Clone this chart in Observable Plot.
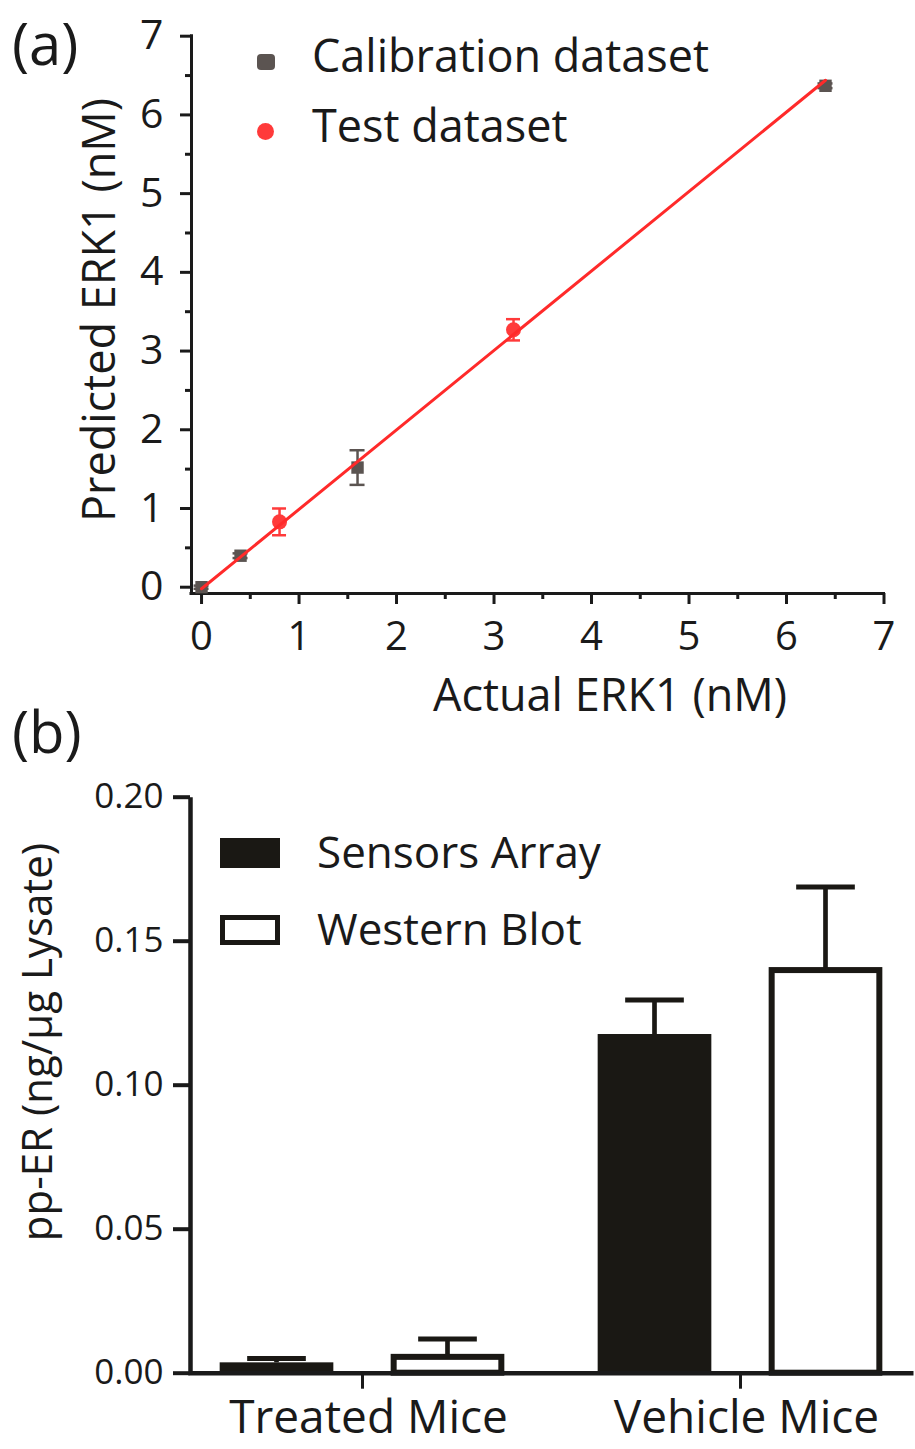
<!DOCTYPE html>
<html><head><meta charset="utf-8">
<script src="https://cdn.jsdelivr.net/npm/d3@7"></script>
<script src="https://cdn.jsdelivr.net/npm/@observablehq/plot@0.6"></script>
<style>
html,body{margin:0;padding:0;background:#fff;}
#wrap{position:relative;width:915px;height:1449px;font-family:"Open Sans",sans-serif;color:#1a1a1a;overflow:hidden;}
#a,#b{position:absolute;left:0;}
#a{top:0;} #b{top:720px;}
#overlay{position:absolute;left:0;top:0;pointer-events:none;}
#overlay text{font-family:"Open Sans",sans-serif;fill:#1a1a1a;}
</style></head>
<body>
<div id="wrap">
  <div id="a"></div>
  <div id="b"></div>
  <svg id="overlay" width="915" height="1449">
    <text x="12" y="65" font-size="58">(a)</text>
    <text x="12" y="753" font-size="58">(b)</text>
    <rect x="257" y="54" width="18" height="16" rx="4" fill="#5b5451"></rect>
    <circle cx="265.5" cy="131.5" r="8.5" fill="#ff3a3a"></circle>
    <text x="312" y="72" font-size="45">Calibration dataset</text>
    <text x="312" y="142" font-size="45">Test dataset</text>
    <text x="610" y="711" font-size="45" text-anchor="middle">Actual ERK1 (nM)</text>
    <text transform="translate(115,310) rotate(-90)" font-size="45" text-anchor="middle">Predicted ERK1 (nM)</text>
    <rect x="220" y="838" width="60" height="30" fill="#1a1814"></rect>
    <rect x="222.5" y="917.5" width="55" height="25" fill="#fff" stroke="#1a1814" stroke-width="5"></rect>
    <text x="317" y="868" font-size="44">Sensors Array</text>
    <text x="317" y="945" font-size="44">Western Blot</text>
    <text transform="translate(52,1042) rotate(-90)" font-size="42" text-anchor="middle">pp-ER (ng/µg Lysate)</text>
  </svg>
</div>
<script>
// ---------- Data: panel (a) ----------
const calibX = [0, 0.4, 1.6, 6.4];
const calibY = [0, 0.40, 1.52, 6.37];
const calibErr = [0.02, 0.03, 0.22, 0.03];
const testX = [0.8, 3.2];
const testY = [0.83, 3.27];
const testErr = [0.17, 0.135];
const fitX = [0, 6.4];
const fitY = [-0.02, 6.44];
const majorTicksA = [0, 1, 2, 3, 4, 5, 6, 7];
const minorTicksA = [0.5, 1.5, 2.5, 3.5, 4.5, 5.5, 6.5];

// ---------- Data: panel (b) ----------
const groups = ["Treated Mice", "Vehicle Mice"];
const seriesNames = ["Sensors Array", "Western Blot"];
const sensorsVal = [0.0036, 0.1176];
const sensorsErr = [0.0015, 0.012];
const westernVal = [0.0055, 0.1398];
const westernErr = [0.0064, 0.029];
const yTicksB = [0, 0.05, 0.10, 0.15, 0.20];

const INK = "#1a1a1a", BAR = "#1a1814", GRAY = "#5b5451", RED = "#ff3a3a", LINE = "#ff2a2a";
const font = '"Open Sans", sans-serif';

// ---------- Panel (a) ----------
const calib = calibX.map((x, i) => ({x, y: calibY[i], lo: calibY[i] - calibErr[i], hi: calibY[i] + calibErr[i]}));
const test = testX.map((x, i) => ({x, y: testY[i], lo: testY[i] - testErr[i], hi: testY[i] + testErr[i]}));
const fit = fitX.map((x, i) => ({x, y: fitY[i]}));
const xDomA = [-0.103, 7], yDomA = [-0.08, 7];

function errA(data, color, cap) {
  return [
    Plot.ruleX(data, {x: "x", y1: "lo", y2: "hi", stroke: color, strokeWidth: 2.5}),
    Plot.ruleY(data, {x1: "x", x2: "x", y: "hi", stroke: color, strokeWidth: 2.5, insetLeft: -cap, insetRight: -cap}),
    Plot.ruleY(data, {x1: "x", x2: "x", y: "lo", stroke: color, strokeWidth: 2.5, insetLeft: -cap, insetRight: -cap})
  ];
}

const plotA = Plot.plot({
  width: 915, height: 720,
  marginLeft: 191, marginRight: 31.5, marginTop: 35.7, marginBottom: 127,
  style: {fontFamily: font, color: INK, background: "transparent", overflow: "visible"},
  x: {domain: xDomA, label: null},
  y: {domain: yDomA, label: null},
  marks: [
    Plot.axisX({ticks: majorTicksA, tickSize: 11, tickPadding: 17, fontSize: 40, strokeWidth: 3, tickFormat: d3.format("d"), label: null}),
    Plot.axisX({ticks: minorTicksA, tickSize: 6, strokeWidth: 3, tickFormat: () => "", label: null}),
    Plot.axisY({ticks: majorTicksA, tickSize: 11, tickPadding: 17, fontSize: 41, strokeWidth: 3, tickFormat: d3.format("d"), label: null}),
    Plot.axisY({ticks: minorTicksA, tickSize: 6, strokeWidth: 3, tickFormat: () => "", label: null}),
    Plot.ruleY([yDomA[0]], {stroke: INK, strokeWidth: 3, strokeLinecap: "square"}),
    Plot.ruleX([xDomA[0]], {stroke: INK, strokeWidth: 3, strokeLinecap: "square"}),
    ...errA(calib, GRAY, 7.5),
    ...errA(test, RED, 7),
    Plot.dot(calib, {x: "x", y: "y", symbol: "square", r: 7, fill: GRAY}),
    Plot.dot(test, {x: "x", y: "y", r: 7.5, fill: RED}),
    Plot.line(fit, {x: "x", y: "y", stroke: LINE, strokeWidth: 3})
  ]
});
document.getElementById("a").appendChild(plotA);

// ---------- Panel (b) ----------
const rows = groups.flatMap((g, i) => [
  {group: g, series: seriesNames[0], value: sensorsVal[i], err: sensorsErr[i]},
  {group: g, series: seriesNames[1], value: westernVal[i], err: westernErr[i]}
]);
const sensors = rows.filter(d => d.series === seriesNames[0]);
const western = rows.filter(d => d.series === seriesNames[1]);

const mL = 190, mR = 2, mT = 76.7, mB = 76.3, Wb = 915, Hb = 729;
const plotW = Wb - mL - mR, plotH = Hb - mT - mB;
const padIn = 0.1, padOut = 0.006;
const step = plotW / (groups.length - padIn + 2 * padOut);
const bw = step * (1 - padIn);
// visual sizes (pixels)
const barW = 114, off = 85.5, capW = 59, errW = 5, wStroke = 6;
const ins = (center, w) => ({insetLeft: bw / 2 + center - w / 2, insetRight: bw / 2 - center - w / 2});

const errB = (data, center) => [
  Plot.barY(data, {x: "group", y1: "value", y2: d => d.value + d.err, fill: BAR, ...ins(center, errW)}),
];
const capB = (data, center) => [
  Plot.ruleY(data, {x1: "group", x2: "group", y: d => d.value + d.err, stroke: BAR, strokeWidth: 5, ...ins(center, capW)})
];

const plotB = Plot.plot({
  width: Wb, height: Hb,
  marginLeft: mL, marginRight: mR, marginTop: mT, marginBottom: mB,
  style: {fontFamily: font, color: INK, background: "transparent", overflow: "visible"},
  x: {domain: groups, paddingInner: padIn, paddingOuter: padOut, label: null},
  y: {domain: [0, 0.2], label: null},
  marks: [
    Plot.axisY({ticks: yTicksB, tickSize: 17, tickPadding: 10, fontSize: 35, strokeWidth: 4, tickFormat: d3.format(".2f"), label: null}),
    Plot.axisX({tickSize: 16, strokeWidth: 3, tickFormat: () => "", label: null}),
    Plot.axisX({tickSize: 0, tickPadding: 27, fontSize: 46, dx: 6, label: null}),
    ...errB(sensors, -off),
    ...errB(western, off),
    Plot.barY(sensors, {x: "group", y: "value", fill: BAR, ...ins(-off, barW)}),
    Plot.barY(western, {x: "group", y: "value", fill: "#fff", stroke: BAR, strokeWidth: wStroke, ...ins(off, barW - wStroke)}),
    ...capB(sensors, -off),
    ...capB(western, off),
    Plot.frame({stroke: INK, strokeWidth: 4.5, strokeDasharray: `0 ${plotW + plotH} ${plotW + plotH + 10}`})
  ]
});
document.getElementById("b").appendChild(plotB);
</script>
</body></html>
